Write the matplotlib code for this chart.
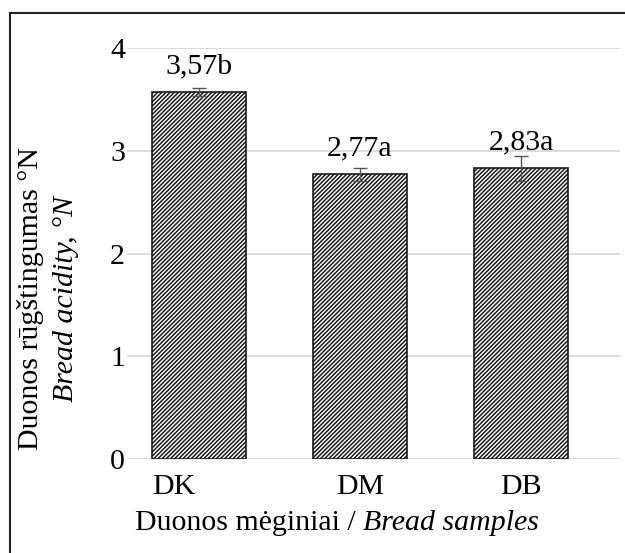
import numpy as np
import matplotlib
matplotlib.use('Agg')
import matplotlib.pyplot as plt
import matplotlib.transforms as mtransforms
from matplotlib.lines import Line2D

samples = ['DK', 'DM', 'DB']
acidity = [3.57, 2.77, 2.83]
errors = [0.04, 0.06, 0.12]
labels = ['3,57b', '2,77a', '2,83a']

plt.rcParams['font.family'] = ['Liberation Serif', 'DejaVu Serif']
plt.rcParams['hatch.linewidth'] = 1.1
plt.rcParams['hatch.color'] = '#3a3a3a'

fig = plt.figure(figsize=(6.25, 5.53), dpi=100)
ax = fig.add_axes([127 / 625, 1 - 459 / 553, 493 / 625, 411 / 553])

x = np.arange(len(samples))
ax.bar(x, acidity, width=0.584, color='white', edgecolor='#1a1a1a',
       linewidth=1.2, hatch='////////', zorder=3)
ax.errorbar(x, acidity, yerr=errors, fmt='none', ecolor='#555555',
            elinewidth=1, capsize=5, capthick=1, zorder=4)

for xi, v, lab in zip(x, acidity, labels):
    ax.annotate(lab, xy=(xi, v), xytext=(0, 13.5), textcoords='offset points',
                ha='center', va='baseline', fontsize=21.5)

ax.set_xlim(-0.447, 2.615)
ax.set_ylim(0, 4)
ax.set_yticks([0, 1, 2, 3, 4])
ax.set_xticks(x)
ax.set_xticklabels(samples)
ax.tick_params(axis='both', length=0, labelsize=21.5)
ax.tick_params(axis='y', pad=1.5)
ax.tick_params(axis='x', pad=11)
ax.grid(axis='y', color='#dcdcdc', linewidth=1.4, zorder=0)
for s in ax.spines.values():
    s.set_visible(False)

# first category label sits left of its bar centre in the original
shift = mtransforms.ScaledTranslation(-25 / 100, 0, fig.dpi_scale_trans)
lbl0 = ax.get_xticklabels()[0]
lbl0.set_transform(lbl0.get_transform() + shift)

# axis titles
fig.text(31 / 625, 1 - 299 / 553, 'Duonos rūgštingumas °N', rotation=90,
         ha='center', va='center', fontsize=21.5)
fig.text(66 / 625, 1 - 299 / 553, 'Bread acidity, °N', rotation=90,
         ha='center', va='center', fontsize=21.5, style='italic')
fig.text(363 / 625, 1 - 523 / 553, 'Duonos mėginiai / ', ha='right',
         va='center', fontsize=21.5)
fig.text(363 / 625, 1 - 523 / 553, 'Bread samples', ha='left',
         va='center', fontsize=21.5, style='italic')

# frame around the figure (left and top only)
fig.add_artist(Line2D([10 / 625, 10 / 625], [0, 1 - 13 / 553],
                      transform=fig.transFigure, color='#222222', linewidth=1.5))
fig.add_artist(Line2D([10 / 625, 1], [1 - 13 / 553, 1 - 13 / 553],
                      transform=fig.transFigure, color='#222222', linewidth=1.5))

fig.savefig('out.png', dpi=100)
